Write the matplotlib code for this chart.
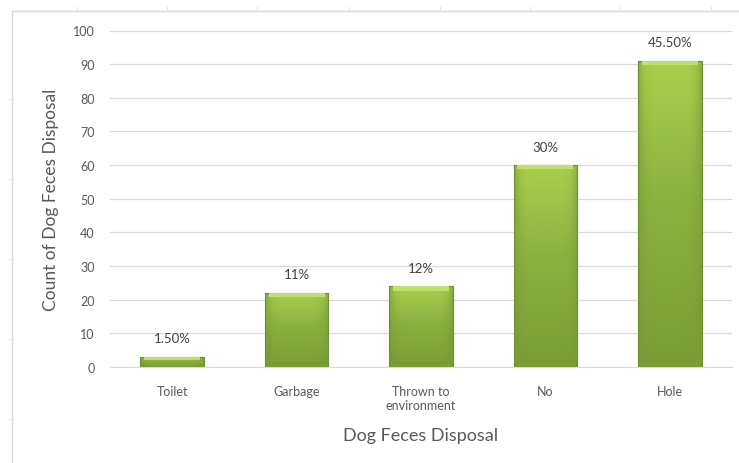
import matplotlib.pyplot as plt
import numpy as np
from matplotlib.colors import LinearSegmentedColormap
from matplotlib.lines import Line2D
from matplotlib.patches import Rectangle

plt.rcParams['font.family'] = ['Lato', 'DejaVu Sans']

# data
categories = ["Toilet", "Garbage", "Thrown to\nenvironment", "No", "Hole"]
counts = [3, 22, 24, 60, 91]
pct_labels = ["1.50%", "11%", "12%", "30%", "45.50%"]
yticks = [0, 10, 20, 30, 40, 50, 60, 70, 80, 90, 100]

fig = plt.figure(figsize=(7.39, 4.64), dpi=100)
ax = fig.add_axes([110 / 739, 96 / 464, 622 / 739, 336.5 / 464])

# green gradient like the excel bevel bars
greens = LinearSegmentedColormap.from_list("bar", ["#7a9c36", "#8aae3f", "#a9cf4d"])
grad = np.linspace(0, 1, 100).reshape(-1, 1)
side = np.abs(np.linspace(-1, 1, 60)) ** 6
img = np.clip(grad * (1 - 0.35 * side) - 0.15 * side, 0, 1)

x = np.arange(len(categories))
w = 0.51
for xi, h, lab in zip(x, counts, pct_labels):
    rect = Rectangle((xi - w / 2, 0), w, h, facecolor="none",
                     edgecolor="#6d8f2e", linewidth=0.8, zorder=3)
    ax.add_patch(rect)
    im = ax.imshow(img, cmap=greens, origin="lower", aspect="auto",
                   extent=(xi - w / 2, xi + w / 2, 0, h), zorder=2,
                   interpolation="bilinear")
    im.set_clip_path(rect)
    # light strip on the top edge
    bev = min(1.3, h * 0.35)
    ax.add_patch(Rectangle((xi - w / 2 + 0.03, h - bev), w - 0.06, bev,
                           facecolor="#bfe06a", edgecolor="none", zorder=3))
    ax.annotate(lab, (xi, h), xytext=(0, 9), textcoords="offset points",
                ha="center", va="bottom", fontsize=9.5, color="#404040")

ax.set_xlim(-0.5, len(categories) - 0.5)
ax.set_ylim(0, 100)
ax.set_yticks(yticks)
ax.set_xticks(x)
ax.set_xticklabels(categories, fontsize=9, color="#595959", linespacing=1.15)
ax.tick_params(axis="y", labelsize=9, labelcolor="#595959", length=0, pad=11)
ax.tick_params(axis="x", length=0, pad=13)
ax.yaxis.grid(True, color="#d9d9d9", linewidth=0.9)
ax.set_axisbelow(True)
for s in ["top", "right", "left"]:
    ax.spines[s].set_visible(False)
ax.spines["bottom"].set_color("#d9d9d9")

ax.set_ylabel("Count of Dog Feces Disposal", fontsize=12.5, color="#595959", labelpad=10)
ax.set_xlabel("Dog Feces Disposal", fontsize=13, color="#595959", labelpad=12)

# the faint outer frame of the copied chart
fig.add_artist(Line2D([12 / 739, 12 / 739], [0, 452 / 464], color="#d9d9d9", lw=1))
fig.add_artist(Line2D([12 / 739, 1], [452 / 464, 452 / 464], color="#d9d9d9", lw=1))
for px in [77, 167, 257, 349, 440, 530, 620, 711]:
    fig.add_artist(Line2D([px / 739, px / 739], [452 / 464, 456 / 464], color="#e3e3e3", lw=0.8))
for py in [100, 180, 260, 340, 420]:
    fig.add_artist(Line2D([9 / 739, 12 / 739], [1 - py / 464, 1 - py / 464], color="#e3e3e3", lw=0.8))

fig.savefig("out.png", dpi=100)
